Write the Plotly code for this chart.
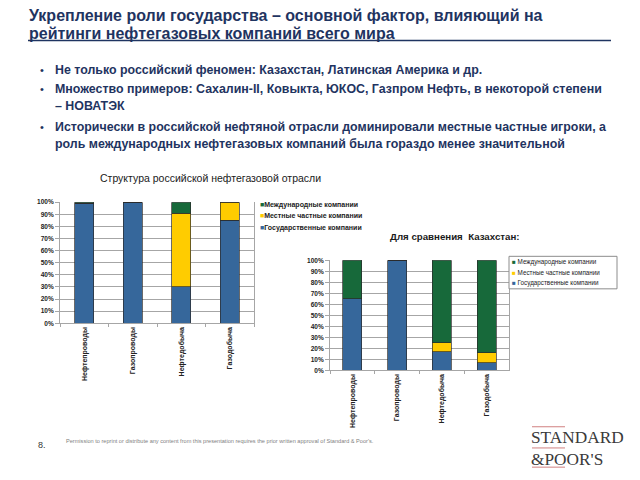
import plotly.graph_objects as go

# ---------------- data ----------------
categories = ["Нефтепроводы", "Газопроводы", "Нефтедобыча", "Газодобыча"]
series_names = ["Международные компании", "Местные частные компании", "Государственные компании"]

russia_gov = [99, 100, 30, 85]
russia_local = [0, 0, 61, 15]
russia_intl = [1, 0, 9, 0]

kz_gov = [65, 100, 17, 7]
kz_local = [0, 0, 8, 9]
kz_intl = [35, 0, 75, 84]

y_ticks = [0, 10, 20, 30, 40, 50, 60, 70, 80, 90, 100]
y_tick_labels = [f"{v}%" for v in y_ticks]

title_lines = ["Укрепление роли государства – основной фактор, влияющий на",
               "рейтинги нефтегазовых компаний всего мира"]
bullets = [
    ["Не только российский феномен: Казахстан, Латинская Америка и др."],
    ["Множество примеров: Сахалин-II, Ковыкта, ЮКОС, Газпром Нефть, в некоторой степени",
     "– НОВАТЭК"],
    ["Исторически в российской нефтяной отрасли доминировали местные частные игроки, а",
     "роль международных нефтегазовых компаний была гораздо менее значительной"],
]
chart1_title = "Структура российской нефтегазовой отрасли"
chart2_title = "Для сравнения  Казахстан:"
footer = ("Permission to reprint or distribute any content from this presentation "
          "requires the prior written approval of Standard & Poor's.")

# ---------------- style ----------------
OFF = 8  # page body margin
W, H = 640 - OFF, 480 - OFF
C_GOV = "#36679B"
C_LOC = "#FFCC00"
C_INT = "#17693A"
colors = {"gov": C_GOV, "loc": C_LOC, "int": C_INT}
NAVY = "#1F3461"
FONT = "Liberation Sans"


def px(x):
    return (x - OFF) / W


def py(y):
    return 1 - (y - OFF) / H


fig = go.Figure()

edge = dict(color="#2B2B2B", width=0.7)
for axis_id, gov, loc, intl, bw in [("", russia_gov, russia_local, russia_intl, 0.39),
                                     ("2", kz_gov, kz_local, kz_intl, 0.42)]:
    xa = "x" + axis_id
    ya = "y" + axis_id
    for vals, key, name in [(gov, "gov", series_names[2]),
                            (loc, "loc", series_names[1]),
                            (intl, "int", series_names[0])]:
        fig.add_trace(go.Bar(x=categories, y=vals, name=name, xaxis=xa, yaxis=ya,
                             width=bw, marker=dict(color=colors[key], line=edge),
                             showlegend=False, hoverinfo="skip"))

common_y = dict(range=[0, 100], tickvals=y_ticks, ticktext=y_tick_labels,
                showgrid=True, gridcolor="#A6A6A6", gridwidth=1,
                showline=True, linecolor="#A6A6A6", mirror=True,
                ticks="outside", ticklen=4, tickcolor="#A6A6A6",
                tickfont=dict(family=FONT, size=6.5, color="#222", weight="bold"),
                zeroline=False, fixedrange=True)
common_x = dict(type="category", tickangle=-90, showline=True, linecolor="#A6A6A6",
                ticks="outside", tickson="boundaries", ticklen=3, tickcolor="#A6A6A6",
                tickfont=dict(family=FONT, size=7, color="#222", weight="bold"),
                showgrid=False, fixedrange=True)

fig.update_layout(
    width=W, height=H, margin=dict(l=0, r=0, t=0, b=0),
    paper_bgcolor="white", plot_bgcolor="white",
    barmode="stack", bargap=0.6,
    xaxis=dict(domain=[px(60), px(254)], anchor="y", **common_x),
    yaxis=dict(domain=[py(324), py(201)], anchor="x", **common_y),
    xaxis2=dict(domain=[px(330), px(509)], anchor="y2", **common_x),
    yaxis2=dict(domain=[py(371.7), py(260)], anchor="x2", **common_y),
    showlegend=False,
)

ann = []
shapes = []

# title
for i, line in enumerate(title_lines):
    ann.append(dict(x=px(27), y=py(12 + 17.5 * i), xref="paper", yref="paper",
                    xanchor="left", yanchor="middle", showarrow=False, text=line,
                    font=dict(family=FONT, size=16, color=NAVY, weight="bold")))
shapes.append(dict(type="line", xref="paper", yref="paper", x0=px(28), x1=px(611),
                   y0=py(37), y1=py(37), line=dict(color=NAVY, width=1.5)))

# bullets
ys = [[67], [86, 103], [125, 142]]
for lines, yy in zip(bullets, ys):
    ann.append(dict(x=px(38), y=py(yy[0]), xref="paper", yref="paper", xanchor="left",
                    yanchor="middle", showarrow=False, text="•",
                    font=dict(family=FONT, size=11, color=NAVY)))
    for line, y in zip(lines, yy):
        ann.append(dict(x=px(53), y=py(y), xref="paper", yref="paper", xanchor="left",
                        yanchor="middle", showarrow=False, text=line,
                        font=dict(family=FONT, size=12.4, color=NAVY, weight="bold")))

# chart titles
ann.append(dict(x=px(98), y=py(176), xref="paper", yref="paper", xanchor="left",
                yanchor="middle", showarrow=False, text=chart1_title,
                font=dict(family=FONT, size=10.5, color="#1A1A1A")))
ann.append(dict(x=px(388), y=py(236), xref="paper", yref="paper", xanchor="left",
                yanchor="middle", showarrow=False, text=chart2_title,
                font=dict(family=FONT, size=9.7, color="#1A1A1A", weight="bold")))

# legends
leg_colors = [C_INT, C_LOC, C_GOV]
for name, col, y in zip(series_names, leg_colors, [204, 215, 227]):
    ann.append(dict(x=px(258), y=py(y), xref="paper", yref="paper", xanchor="left",
                    yanchor="middle", showarrow=False,
                    text=f"<span style='color:{col}'>■</span>{name}",
                    font=dict(family=FONT, size=7, color="#222", weight="bold")))
shapes.append(dict(type="rect", xref="paper", yref="paper", x0=px(509), x1=px(617),
                   y0=py(289), y1=py(256), line=dict(color="#8C8C8C", width=1),
                   fillcolor="white"))
for name, col, y in zip(series_names, leg_colors, [262, 272.5, 283]):
    ann.append(dict(x=px(510), y=py(y), xref="paper", yref="paper", xanchor="left",
                    yanchor="middle", showarrow=False,
                    text=f"<span style='color:{col}'>■</span> {name}",
                    font=dict(family=FONT, size=6.3, color="#222")))

# footer
ann.append(dict(x=px(36), y=py(448), xref="paper", yref="paper", xanchor="left",
                yanchor="middle", showarrow=False, text="8.",
                font=dict(family=FONT, size=9, color="#333")))
ann.append(dict(x=px(64), y=py(443), xref="paper", yref="paper", xanchor="left",
                yanchor="middle", showarrow=False, text=footer,
                font=dict(family=FONT, size=5.6, color="#7F7F7F")))

# logo
ann.append(dict(x=px(529), y=py(440), xref="paper", yref="paper", xanchor="left",
                yanchor="middle", showarrow=False, text="STANDARD",
                font=dict(family="Liberation Serif", size=17.3, color="#3A3A3A")))
ann.append(dict(x=px(529), y=py(462), xref="paper", yref="paper", xanchor="left",
                yanchor="middle", showarrow=False, text="&POOR'S",
                font=dict(family="Liberation Serif", size=17.3, color="#3A3A3A")))
for y in [429, 450.5, 470]:
    shapes.append(dict(type="line", xref="paper", yref="paper", x0=px(532), x1=px(565),
                       y0=py(y), y1=py(y), line=dict(color="#D08080", width=1)))

fig.update_layout(annotations=ann, shapes=shapes)
fig.write_html("out.html")
